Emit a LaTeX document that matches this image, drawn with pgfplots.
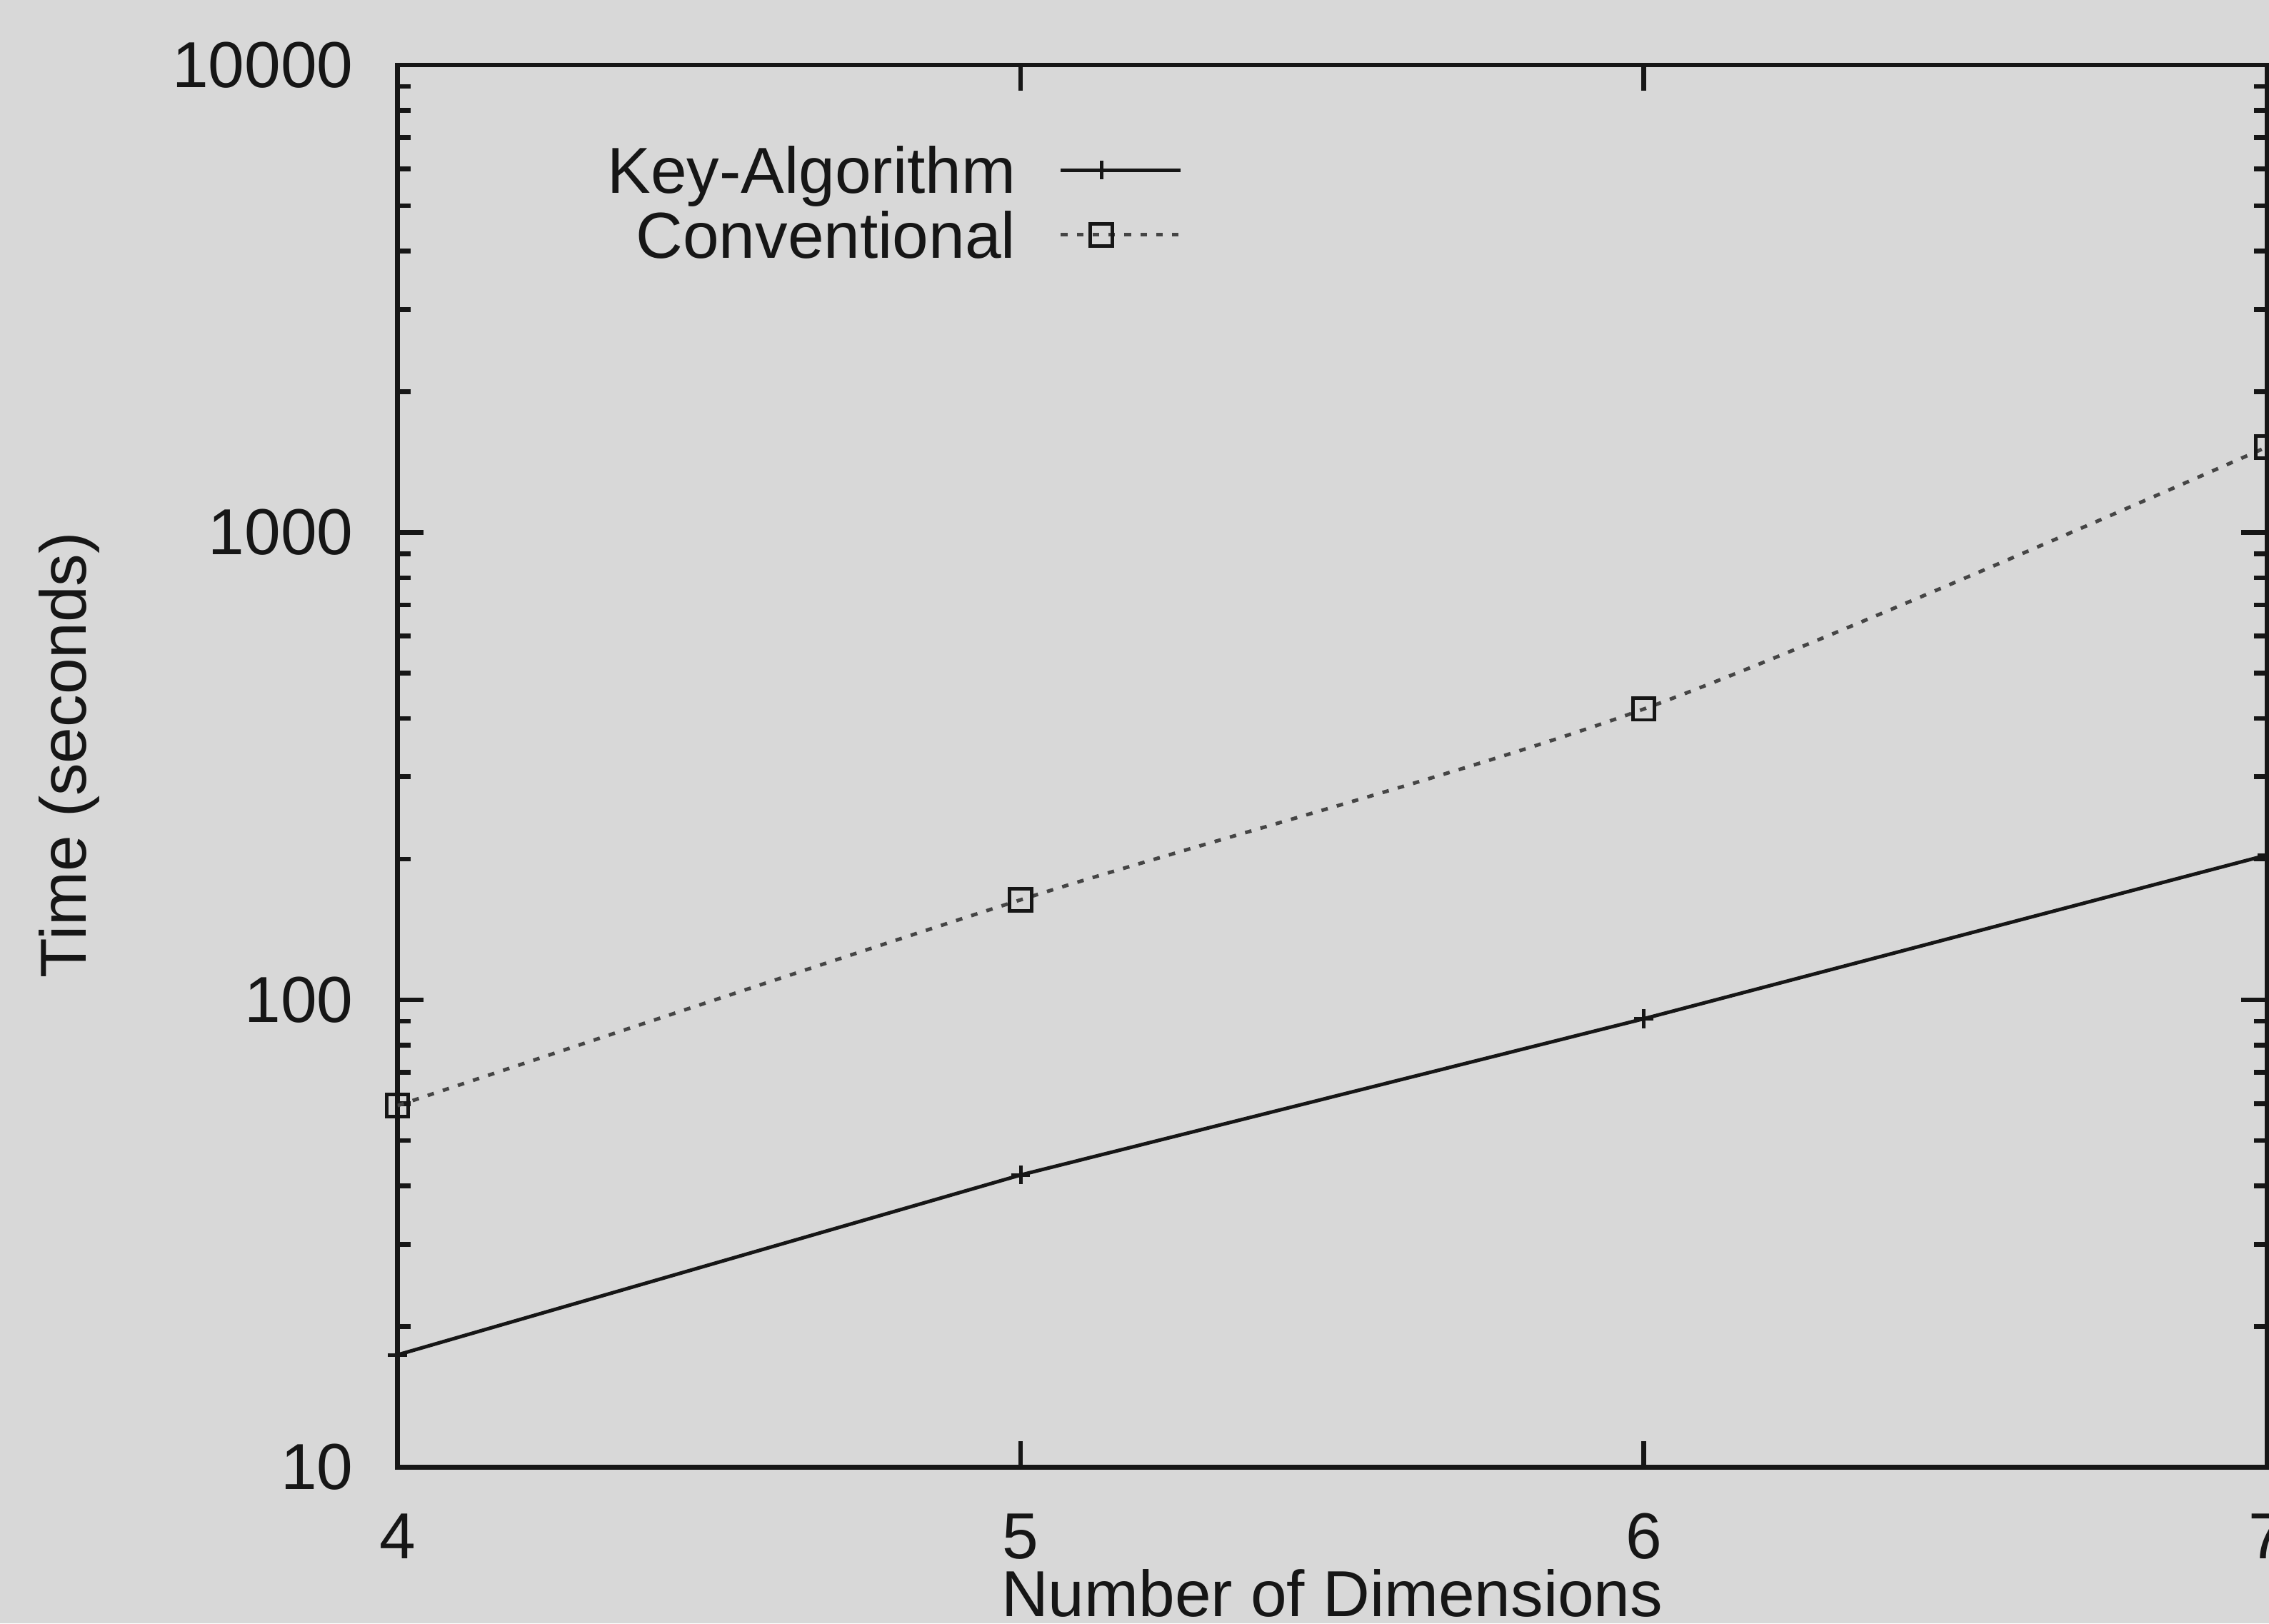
\documentclass[border=0pt]{standalone}
\usepackage{fontspec}
\setmainfont{Liberation Sans}
\usepackage{pgfplots}
\pgfplotsset{compat=1.18}
\definecolor{bg}{RGB}{216,216,216}
\definecolor{ink}{RGB}{22,22,22}
\newcommand{\chartfont}{\fontsize{12.8}{15}\selectfont}
\begin{document}
\chartfont
\begin{tikzpicture}
\fill[bg] (-27.5mm,-10.8mm) rectangle (129.45mm,101.5mm);
\begin{axis}[
  at={(0,0)}, anchor=south west,
  scale only axis, width=129.3mm, height=97mm,
  xmin=4, xmax=7, ymin=10, ymax=10000, ymode=log,
  xtick={4,5,6,7}, xticklabels={4,5,6,7},
  ytick={10,100,1000,10000}, yticklabels={10,100,1000,10000},
  minor ytick={20,30,...,90,200,300,...,900,2000,3000,...,9000},
  tick align=inside, major tick length=1.8mm, minor tick length=0.9mm,
  axis line style={line width=0.95pt, draw=ink},
  every tick/.style={draw=ink, line width=0.95pt},
  /pgf/number format/assume math mode=true,
  tick label style={font=\chartfont, text=ink},
  xticklabel style={anchor=base, yshift=-6.3mm, inner sep=0pt},
  yticklabel style={anchor=east, inner sep=0pt, xshift=-3mm},
  xlabel={Number of Dimensions}, ylabel={Time (seconds)},
  every axis x label/.style={at={(axis description cs:0.5,-0.1062)}, anchor=base, font=\chartfont, text=ink},
  every axis y label/.style={at={(axis description cs:-0.1756,0.508)}, anchor=center, rotate=90, font=\chartfont, text=ink},
  legend plot pos=right, legend cell align=right,
  legend style={at={(axis description cs:0.42,0.9418)}, anchor=north east, draw=none, fill=none,
    inner sep=0pt, outer sep=0pt, row sep=1.25mm, column sep=0pt, font=\chartfont, text=ink,
    nodes={inner sep=0pt, text height=0.72em, text depth=0pt}},
  legend image code/.code={
    \path (0mm,0mm);
    \draw[#1,mark=none] (3mm,0mm) -- (11.3mm,0mm);
    \draw[#1,solid] plot coordinates {(5.8mm,0mm)};
  },
]
\addplot[ink, line width=0.7pt, mark=+, mark size=0.65mm, mark options={solid}]
  coordinates {(4,17.4) (5,42.2) (6,91.1) (7,204)};
\addlegendentry{Key-Algorithm}
\addplot[ink!80, line width=0.7pt, dash pattern=on 0.45mm off 0.65mm, smooth, mark=square, mark size=0.75mm, mark options={solid, draw=ink}]
  coordinates {(4,59.4) (5,163.7) (6,419) (7,1523)};
\addlegendentry{Conventional}
\end{axis}
\pgfresetboundingbox
\useasboundingbox (-27.5mm,-10.8mm) rectangle (129.45mm,101.5mm);
\end{tikzpicture}
\end{document}
